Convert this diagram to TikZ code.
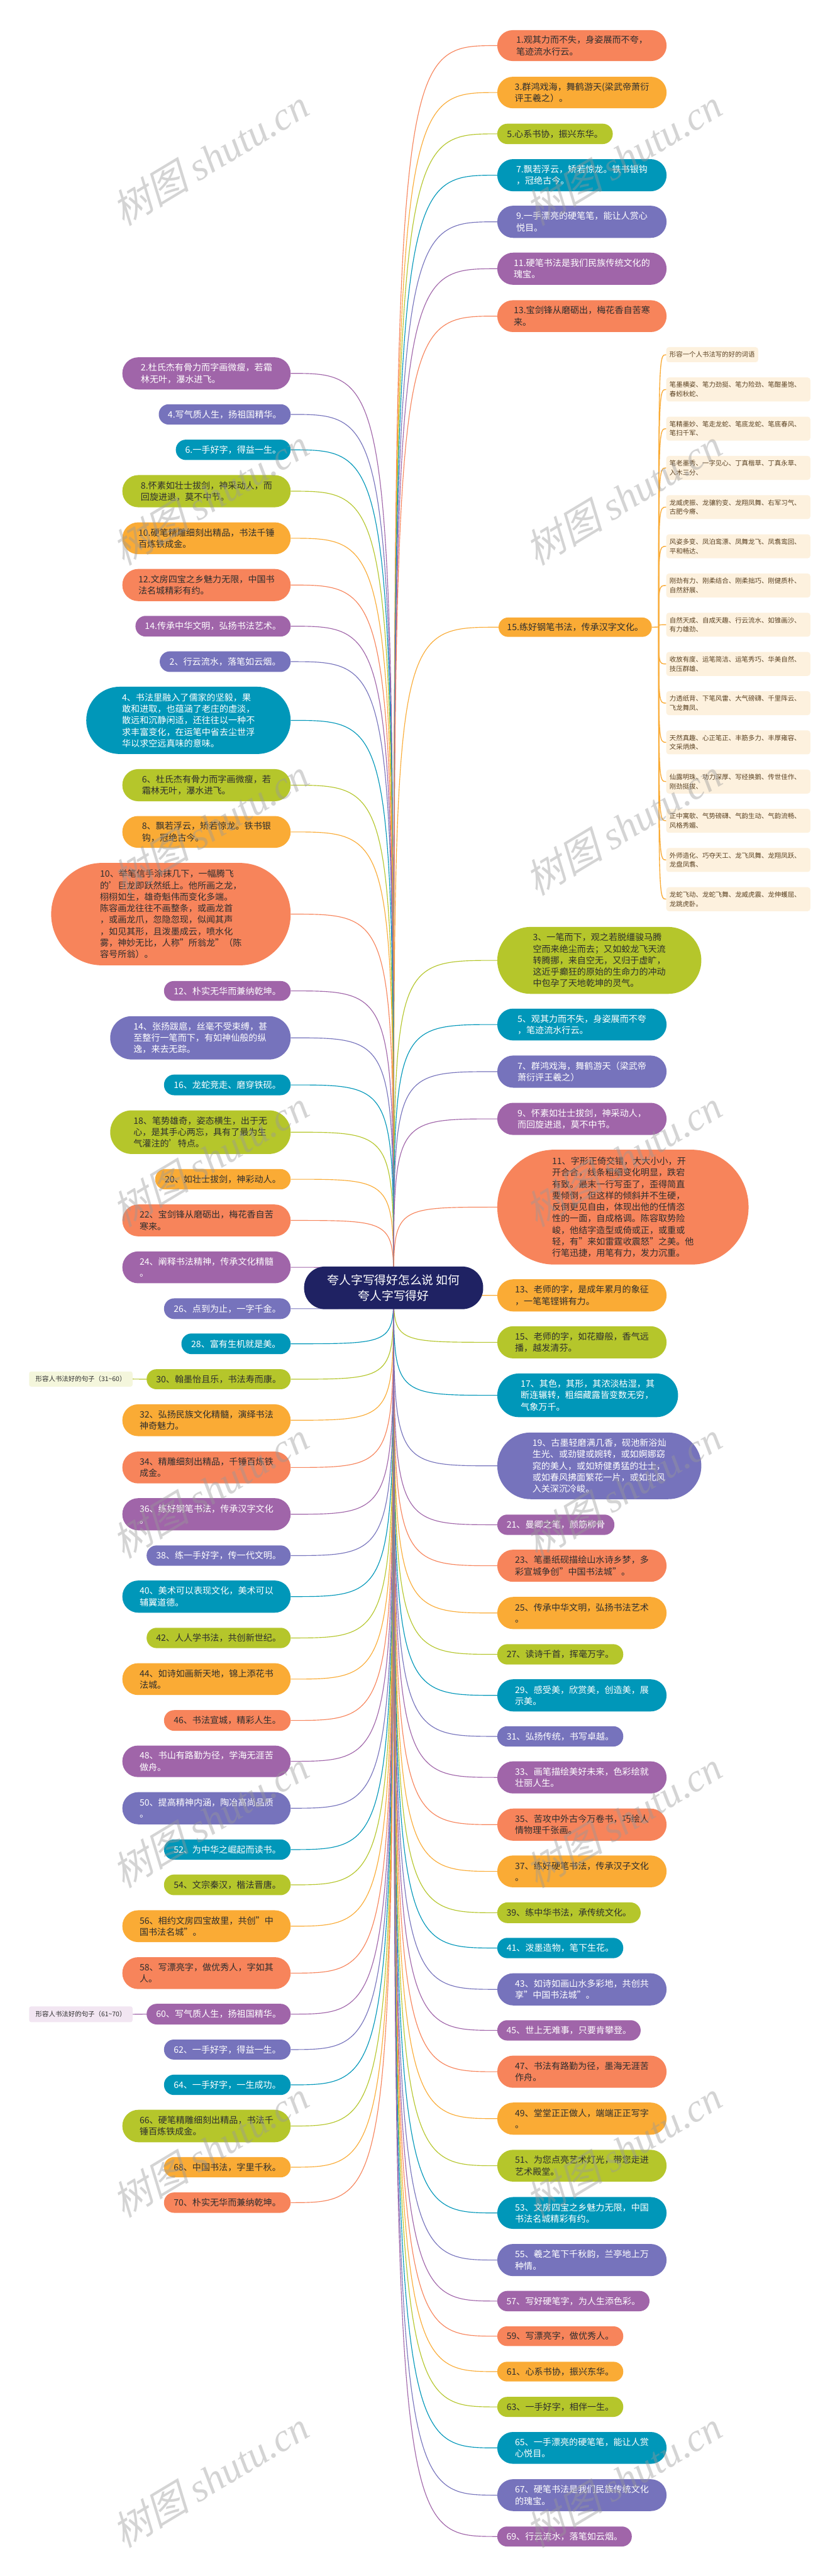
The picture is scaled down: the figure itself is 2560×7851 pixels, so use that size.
\documentclass[tikz,border=0pt]{standalone}
\usepackage{fontspec}
\setmainfont{Noto Sans CJK SC}
\newfontfamily\wmcjk[FakeSlant=0.25]{Noto Sans CJK SC}
\newfontfamily\wmlat{Liberation Serif}
\usetikzlibrary{backgrounds}
\definecolor{cOr}{HTML}{F7845B}
\definecolor{cAm}{HTML}{FAAB35}
\definecolor{cLi}{HTML}{B5C62B}
\definecolor{cTe}{HTML}{0097B9}
\definecolor{cSl}{HTML}{7673BC}
\definecolor{cPu}{HTML}{A065A9}
\definecolor{cNavy}{HTML}{1F2263}
\definecolor{cDark}{HTML}{2E2E2E}
\definecolor{cCream}{HTML}{FDF1DE}
\definecolor{cBrown}{HTML}{5B4222}
\definecolor{cLabA}{HTML}{F4F6DC}
\definecolor{cLabB}{HTML}{F2E6F2}
\tikzset{
  nd/.style={draw=none, inner sep=0pt, align=left, font={\fontsize{27}{35}\selectfont}},
  sOr/.style={nd, fill=cOr, text=cDark},
  sAm/.style={nd, fill=cAm, text=cDark},
  sLi/.style={nd, fill=cLi, text=cDark},
  sTe/.style={nd, fill=cTe, text=white},
  sSl/.style={nd, fill=cSl, text=white},
  sPu/.style={nd, fill=cPu, text=white},
  conn/.style={line width=2.2pt},
  sub/.style={draw=none, fill=cCream, text=cBrown, rounded corners=8pt, inner xsep=10pt, inner ysep=0pt, align=left, anchor=west, minimum height=73pt, text width=419pt, font={\fontsize{20}{28}\selectfont}},
  lab/.style={draw=none, rounded corners=6pt, inner sep=0pt, text=cDark, font={\fontsize{20}{26}\selectfont}},
  wmk/.style={rotate=31, text=black!40, text opacity=0.42, inner sep=0pt, font={\fontsize{120}{130}\selectfont}}
}
\newcommand\mmbox[7]{%
  \pgfmathsetmacro\mmw{#5-#3}\pgfmathsetmacro\mmh{#6-#4}%
  \pgfmathsetmacro\mmx{(#3+#5)/2}\pgfmathsetmacro\mmy{(#4+#6)/2}%
  \pgfmathsetmacro\mmr{\mmh/2-0.5}%
  \node[#2, minimum width=\mmw pt, minimum height=\mmh pt, rounded corners=\mmr pt] (#1) at (\mmx,\mmy) {#7};}
\newcommand\cL[2]{\draw[conn,#2] (C.center) .. controls (C.center |- #1.east) .. (#1.east);}
\newcommand\cR[2]{\draw[conn,#2] (C.center) .. controls (C.center |- #1.west) .. (#1.west);}
\newcommand\cS[1]{\draw[line width=2.6pt,cAm] (H) .. controls (H |- #1.west) .. (#1.west);}
\begin{document}
\begin{tikzpicture}[x=1pt,y=-1pt]
\useasboundingbox (0,0) rectangle (2560,7851);
% centre
\node[nd, fill=cNavy, text=white, align=center, font={\fontsize{36}{49}\selectfont}, minimum width=546pt, minimum height=130pt, rounded corners=64pt] (C) at (1200,3925) {夸人字写得好怎么说 如何\\夸人字写得好};
% top right group
\mmbox{R1}{sOr}{1516}{92}{2032}{186}{1.观其力而不失，身姿展而不夸，\\笔迹流水行云。}
\mmbox{R3}{sAm}{1516}{234}{2032}{330}{3.群鸿戏海，舞鹤游天(梁武帝萧衍\\评王羲之）。}
\mmbox{R5}{sLi}{1516}{377}{1868}{439}{5.心系书协，振兴东华。}
\mmbox{R7}{sTe}{1516}{485}{2032}{583}{7.飘若浮云，矫若惊龙。铁书银钩\\，冠绝古今。}
\mmbox{R9}{sSl}{1516}{627}{2032}{725}{9.一手漂亮的硬笔笔，能让人赏心\\悦目。}
\mmbox{R11}{sPu}{1516}{770}{2032}{868}{11.硬笔书法是我们民族传统文化的\\瑰宝。}
\mmbox{R13}{sOr}{1516}{915}{2032}{1012}{13.宝剑锋从磨砺出，梅花香自苦寒\\来。}
\mmbox{R15}{sAm}{1520}{1882}{1987}{1941}{15.练好钢笔书法，传承汉字文化。}
% top left group
\mmbox{L2}{sPu}{373}{1089}{886}{1187}{2.杜氏杰有骨力而字画微瘦，若霜\\林无叶，瀑水进飞。}
\mmbox{L4}{sSl}{484}{1232}{886}{1294}{4.写气质人生，扬祖国精华。}
\mmbox{L6}{sTe}{536}{1340}{886}{1402}{6.一手好字，得益一生。}
\mmbox{L8}{sLi}{373}{1448}{886}{1546}{8.怀素如壮士拔剑，神采动人，而\\回旋进退，莫不中节。}
\mmbox{L10}{sAm}{373}{1592}{886}{1689}{10.硬笔精雕细刻出精品，书法千锤\\百炼铁成金。}
\mmbox{L12}{sOr}{373}{1734}{886}{1832}{12.文房四宝之乡魅力无限，中国书\\法名城精彩有约。}
\mmbox{L14}{sPu}{413}{1877}{886}{1940}{14.传承中华文明，弘扬书法艺术。}
% left list
\mmbox{a2}{sSl}{487}{1985}{886}{2048}{2、行云流水，落笔如云烟。}
\mmbox{a4}{sTe}{263}{2093}{886}{2298}{4、书法里融入了儒家的坚毅，果\\敢和进取，也蕴涵了老庄的虚淡，\\散远和沉静闲适，还往往以一种不\\求丰富变化，在运笔中省去尘世浮\\华以求空远真味的意味。}
\mmbox{a6}{sLi}{373}{2344}{886}{2442}{6、杜氏杰有骨力而字画微瘦，若\\霜林无叶，瀑水进飞。}
\mmbox{a8}{sAm}{373}{2487}{886}{2584}{8、飘若浮云，矫若惊龙。铁书银\\钩，冠绝古今。}
\mmbox{a10}{sOr}{156}{2630}{886}{2942}{10、举笔信手涂抹几下，一幅腾飞\\的'巨龙即跃然纸上。他所画之龙，\\栩栩如生，雄奇魁伟而变化多端。\\陈容画龙往往不画整条，或画龙首\\，或画龙爪，忽隐忽现，似闻其声\\，如见其形，且泼墨成云，喷水化\\雾，神妙无比，人称"所翁龙"（陈\\容号所翁）。}
\mmbox{a12}{sPu}{500}{2990}{886}{3050}{12、朴实无华而兼纳乾坤。}
\mmbox{a14}{sSl}{336}{3097}{886}{3229}{14、张扬跋扈，丝毫不受束缚，甚\\至整行一笔而下，有如神仙般的纵\\逸，来去无踪。}
\mmbox{a16}{sTe}{500}{3275}{886}{3338}{16、龙蛇竞走、磨穿铁砚。}
\mmbox{a18}{sLi}{336}{3384}{886}{3517}{18、笔势雄奇，姿态横生，出于无\\心，是其手心两忘，具有了最为生\\气灌注的'特点。}
\mmbox{a20}{sAm}{473}{3563}{886}{3625}{20、如壮士拔剑，神彩动人。}
\mmbox{a22}{sOr}{373}{3671}{886}{3768}{22、宝剑锋从磨砺出，梅花香自苦\\寒来。}
\mmbox{a24}{sPu}{373}{3814}{886}{3911}{24、阐释书法精神，传承文化精髓\\。}
\mmbox{a26}{sSl}{500}{3957}{886}{4020}{26、点到为止，一字千金。}
\mmbox{a28}{sTe}{553}{4064}{886}{4127}{28、富有生机就是美。}
\mmbox{a30}{sLi}{447}{4173}{886}{4234}{30、翰墨怡且乐，书法寿而康。}
\mmbox{a32}{sAm}{373}{4280}{886}{4377}{32、弘扬民族文化精髓，演绎书法\\神奇魅力。}
\mmbox{a34}{sOr}{373}{4424}{886}{4521}{34、精雕细刻出精品，千锤百炼铁\\成金。}
\mmbox{a36}{sPu}{373}{4566}{886}{4664}{36、练好钢笔书法，传承汉字文化\\。}
\mmbox{a38}{sSl}{447}{4710}{886}{4772}{38、练一手好字，传一代文明。}
\mmbox{a40}{sTe}{373}{4817}{886}{4915}{40、美术可以表现文化，美术可以\\辅翼道德。}
\mmbox{a42}{sLi}{447}{4961}{886}{5023}{42、人人学书法，共创新世纪。}
\mmbox{a44}{sAm}{373}{5069}{886}{5166}{44、如诗如画新天地，锦上添花书\\法城。}
\mmbox{a46}{sOr}{500}{5212}{886}{5275}{46、书法宣城，精彩人生。}
\mmbox{a48}{sPu}{373}{5320}{886}{5416}{48、书山有路勤为径，学海无涯苦\\做舟。}
\mmbox{a50}{sSl}{373}{5462}{886}{5560}{50、提高精神内涵，陶冶高尚品质\\。}
\mmbox{a52}{sTe}{500}{5606}{886}{5668}{52、为中华之崛起而读书。}
\mmbox{a54}{sLi}{500}{5713}{886}{5776}{54、文宗秦汉，楷法晋唐。}
\mmbox{a56}{sAm}{373}{5822}{886}{5919}{56、相约文房四宝故里，共创"中\\国书法名城"。}
\mmbox{a58}{sOr}{373}{5965}{886}{6062}{58、写漂亮字，做优秀人，字如其\\人。}
\mmbox{a60}{sPu}{447}{6107}{886}{6170}{60、写气质人生，扬祖国精华。}
\mmbox{a62}{sSl}{500}{6216}{886}{6277}{62、一手好字，得益一生。}
\mmbox{a64}{sTe}{500}{6323}{886}{6385}{64、一手好字，一生成功。}
\mmbox{a66}{sLi}{373}{6430}{886}{6529}{66、硬笔精雕细刻出精品，书法千\\锤百炼铁成金。}
\mmbox{a68}{sAm}{500}{6574}{886}{6636}{68、中国书法，字里千秋。}
\mmbox{a70}{sOr}{500}{6682}{886}{6744}{70、朴实无华而兼纳乾坤。}
% right list
\mmbox{b3}{sLi}{1516}{2825}{2138}{3029}{3、一笔而下，观之若脱缰骏马腾\\空而来绝尘而去；又如蛟龙飞天流\\转腾挪，来自空无，又归于虚旷，\\这近乎癫狂的原始的生命力的冲动\\中包孕了天地乾坤的灵气。}
\mmbox{b5}{sTe}{1516}{3074}{2032}{3171}{5、观其力而不失，身姿展而不夸\\，笔迹流水行云。}
\mmbox{b7}{sSl}{1516}{3217}{2032}{3315}{7、群鸿戏海，舞鹤游天（梁武帝\\萧衍评王羲之）}
\mmbox{b9}{sPu}{1516}{3361}{2032}{3459}{9、怀素如壮士拔剑，神采动人，\\而回旋进退，莫不中节。}
\mmbox{b11}{sOr}{1516}{3504}{2282}{3854}{11、字形正倚交错，大大小小，开\\开合合，线条粗细变化明显，跌宕\\有致。最末一行写歪了，歪得简直\\要倾倒，但这样的倾斜并不生硬，\\反倒更见自由，体现出他的任情恣\\性的一面，自成格调。陈容取势险\\峻，他结字造型或倚或正，或重或\\轻，有"来如雷霆收震怒"之美。他\\行笔迅捷，用笔有力，发力沉重。}
\mmbox{b13}{sAm}{1516}{3899}{2032}{3997}{13、老师的字，是成年累月的象征\\，一笔笔铿锵有力。}
\mmbox{b15}{sLi}{1516}{4042}{2032}{4140}{15、老师的字，如花瓣般，香气远\\播，越发清芬。}
\mmbox{b17}{sTe}{1516}{4186}{2067}{4319}{17、其色，其形，其浓淡枯湿，其\\断连辗转，粗细藏露皆变数无穷，\\气象万千。}
\mmbox{b19}{sSl}{1516}{4366}{2138}{4569}{19、古墨轻磨满几香，砚池新浴灿\\生光、或劲键或婉转，或如婀娜窈\\窕的美人，或如矫健勇猛的壮士，\\或如春风拂面繁花一片，或如北风\\入关深沉冷峻。}
\mmbox{b21}{sPu}{1516}{4616}{1873}{4678}{21、曼卿之笔，颜筋柳骨}
\mmbox{b23}{sOr}{1516}{4723}{2032}{4821}{23、笔墨纸砚描绘山水诗乡梦，多\\彩宣城争创"中国书法城"。}
\mmbox{b25}{sAm}{1516}{4867}{2032}{4965}{25、传承中华文明，弘扬书法艺术\\。}
\mmbox{b27}{sLi}{1516}{5011}{1900}{5073}{27、读诗千首，挥毫万字。}
\mmbox{b29}{sTe}{1516}{5118}{2032}{5216}{29、感受美，欣赏美，创造美，展\\示美。}
\mmbox{b31}{sSl}{1516}{5261}{1900}{5323}{31、弘扬传统，书写卓越。}
\mmbox{b33}{sPu}{1516}{5368}{2032}{5466}{33、画笔描绘美好未来，色彩绘就\\壮丽人生。}
\mmbox{b35}{sOr}{1516}{5512}{2032}{5610}{35、苦攻中外古今万卷书，巧绘人\\情物理千张画。}
\mmbox{b37}{sAm}{1516}{5655}{2032}{5752}{37、练好硬笔书法，传承汉子文化\\。}
\mmbox{b39}{sLi}{1516}{5798}{1953}{5861}{39、练中华书法，承传统文化。}
\mmbox{b41}{sTe}{1516}{5906}{1900}{5968}{41、泼墨造物，笔下生花。}
\mmbox{b43}{sSl}{1516}{6014}{2032}{6112}{43、如诗如画山水多彩地，共创共\\享"中国书法城"。}
\mmbox{b45}{sPu}{1516}{6157}{1953}{6219}{45、世上无难事，只要肯攀登。}
\mmbox{b47}{sOr}{1516}{6265}{2032}{6363}{47、书法有路勤为径，墨海无涯苦\\作舟。}
\mmbox{b49}{sAm}{1516}{6408}{2032}{6506}{49、堂堂正正做人，端端正正写字\\。}
\mmbox{b51}{sLi}{1516}{6552}{2032}{6649}{51、为您点亮艺术灯光，带您走进\\艺术殿堂。}
\mmbox{b53}{sTe}{1516}{6696}{2032}{6793}{53、文房四宝之乡魅力无限，中国\\书法名城精彩有约。}
\mmbox{b55}{sSl}{1516}{6839}{2032}{6937}{55、羲之笔下千秋韵，兰亭地上万\\种情。}
\mmbox{b57}{sPu}{1516}{6982}{1980}{7044}{57、写好硬笔字，为人生添色彩。}
\mmbox{b59}{sOr}{1516}{7090}{1900}{7150}{59、写漂亮字，做优秀人。}
\mmbox{b61}{sAm}{1516}{7198}{1900}{7258}{61、心系书协，振兴东华。}
\mmbox{b63}{sLi}{1516}{7305}{1900}{7366}{63、一手好字，相伴一生。}
\mmbox{b65}{sTe}{1516}{7412}{2032}{7509}{65、一手漂亮的硬笔笔，能让人赏\\心悦目。}
\mmbox{b67}{sSl}{1516}{7556}{2032}{7653}{67、硬笔书法是我们民族传统文化\\的瑰宝。}
\mmbox{b69}{sPu}{1516}{7700}{1926}{7761}{69、行云流水，落笔如云烟。}
% labels
\node[lab, fill=cLabA, minimum width=315pt, minimum height=46pt] (LA) at (246.5,4203) {形容人书法好的句子（31\textasciitilde 60）};
\node[lab, fill=cLabB, minimum width=315pt, minimum height=48pt] (LB) at (246.5,6139) {形容人书法好的句子（61\textasciitilde 70）};
% sub branch of R15
\coordinate (H) at (2008,1911);
\node[sub, text width=260pt, minimum height=46pt] (sh) at (2031,1081) {形容一个人书法写的好的词语};
\node[sub] (s1) at (2031,1187) {笔墨横姿、笔力劲挺、笔力险劲、笔酣墨饱、\\春蚓秋蛇、};
\node[sub] (s2) at (2031,1306.5) {笔精墨妙、笔走龙蛇、笔底龙蛇、笔底春风、\\笔扫千军、};
\node[sub] (s3) at (2031,1426) {笔老墨秀、一字见心、丁真楷草、丁真永草、\\入木三分、};
\node[sub] (s4) at (2031,1545.5) {龙威虎振、龙骧豹变、龙翔凤舞、右军习气、\\古肥今瘠、};
\node[sub] (s5) at (2031,1665) {风姿多变、凤泊鸾漂、凤舞龙飞、凤翥鸾回、\\平和畅达、};
\node[sub] (s6) at (2031,1784.5) {刚劲有力、刚柔结合、刚柔拙巧、刚健质朴、\\自然舒展、};
\node[sub] (s7) at (2031,1904) {自然天成、自成天趣、行云流水、如锥画沙、\\有力雄劲、};
\node[sub] (s8) at (2031,2023.5) {收放有度、运笔简洁、运笔秀巧、华美自然、\\技压群雄、};
\node[sub] (s9) at (2031,2143) {力透纸背、下笔风雷、大气磅礴、千里阵云、\\飞龙舞凤、};
\node[sub] (s10) at (2031,2262.5) {天然真趣、心正笔正、丰筋多力、丰厚雍容、\\文采炳焕、};
\node[sub] (s11) at (2031,2382) {仙露明珠、功力深厚、写经换鹅、传世佳作、\\刚劲挺拔、};
\node[sub] (s12) at (2031,2501.5) {正中寓欹、气势磅礴、气韵生动、气韵流畅、\\风格秀媚、};
\node[sub] (s13) at (2031,2621) {外师造化、巧夺天工、龙飞凤舞、龙翔凤跃、\\龙盘凤翥、};
\node[sub] (s14) at (2031,2740.5) {龙蛇飞动、龙蛇飞舞、龙威虎震、龙伸蠖屈、\\龙跳虎卧。};
% connectors
\begin{scope}[on background layer]
\fill[white] (0,0) rectangle (2560,7851);
\cR{R1}{cOr}\cR{R3}{cAm}\cR{R5}{cLi}\cR{R7}{cTe}\cR{R9}{cSl}\cR{R11}{cPu}\cR{R13}{cOr}\cR{R15}{cAm}
\cL{L2}{cPu}\cL{L4}{cSl}\cL{L6}{cTe}\cL{L8}{cLi}\cL{L10}{cAm}\cL{L12}{cOr}\cL{L14}{cPu}
\cL{a2}{cSl}\cL{a4}{cTe}\cL{a6}{cLi}\cL{a8}{cAm}\cL{a10}{cOr}\cL{a12}{cPu}
\cL{a14}{cSl}\cL{a16}{cTe}\cL{a18}{cLi}\cL{a20}{cAm}\cL{a22}{cOr}\cL{a24}{cPu}
\cL{a26}{cSl}\cL{a28}{cTe}\cL{a30}{cLi}\cL{a32}{cAm}\cL{a34}{cOr}\cL{a36}{cPu}
\cL{a38}{cSl}\cL{a40}{cTe}\cL{a42}{cLi}\cL{a44}{cAm}\cL{a46}{cOr}\cL{a48}{cPu}
\cL{a50}{cSl}\cL{a52}{cTe}\cL{a54}{cLi}\cL{a56}{cAm}\cL{a58}{cOr}\cL{a60}{cPu}
\cL{a62}{cSl}\cL{a64}{cTe}\cL{a66}{cLi}\cL{a68}{cAm}\cL{a70}{cOr}
\cR{b3}{cLi}\cR{b5}{cTe}\cR{b7}{cSl}\cR{b9}{cPu}\cR{b11}{cOr}\cR{b13}{cAm}
\cR{b15}{cLi}\cR{b17}{cTe}\cR{b19}{cSl}\cR{b21}{cPu}\cR{b23}{cOr}\cR{b25}{cAm}
\cR{b27}{cLi}\cR{b29}{cTe}\cR{b31}{cSl}\cR{b33}{cPu}\cR{b35}{cOr}\cR{b37}{cAm}
\cR{b39}{cLi}\cR{b41}{cTe}\cR{b43}{cSl}\cR{b45}{cPu}\cR{b47}{cOr}\cR{b49}{cAm}
\cR{b51}{cLi}\cR{b53}{cTe}\cR{b55}{cSl}\cR{b57}{cPu}\cR{b59}{cOr}\cR{b61}{cAm}
\cR{b63}{cLi}\cR{b65}{cTe}\cR{b67}{cSl}\cR{b69}{cPu}
\draw[conn,cLi] (LA.east) -- (a30.west);
\draw[conn,cPu] (LB.east) -- (a60.west);
\draw[line width=2.6pt,cAm] (R15.east) -- (H);
\cS{sh}\cS{s1}\cS{s2}\cS{s3}\cS{s4}\cS{s5}\cS{s6}\cS{s7}\cS{s8}\cS{s9}\cS{s10}\cS{s11}\cS{s12}\cS{s13}\cS{s14}
\end{scope}
% watermarks
\foreach \wy [count=\wi] in {480,1515,2520,3530,4540,5545,6550,7555}{
  \node[wmk] (wl\wi) at (640,\wy) {{\wmcjk 树图} {\wmlat\itshape shutu.cn}};
  \node[wmk] (wr\wi) at (1900,\wy) {{\wmcjk 树图} {\wmlat\itshape shutu.cn}};
}
\end{tikzpicture}
\end{document}
